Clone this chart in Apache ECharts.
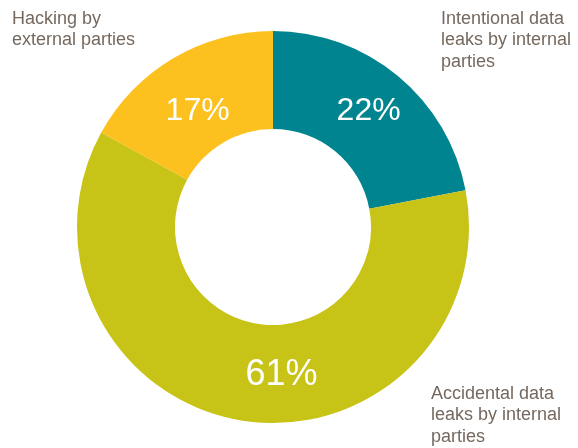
<!DOCTYPE html>
<html>
<head>
<meta charset="utf-8">
<script src="https://cdn.jsdelivr.net/npm/echarts@6/dist/echarts.min.js"></script>
<style>
html,body{margin:0;padding:0;background:#fff;}
#chart{width:578px;height:448px;}
</style>
</head>
<body>
<div id="chart"></div>
<script>
var categories = ['Intentional data\nleaks by internal\nparties', 'Accidental data\nleaks by internal\nparties', 'Hacking by\nexternal parties'];
var values = [22, 61, 17];
var colors = ['#00848F', '#C7C317', '#FCC11E'];

var labelOffsets = [[0, 0], [32, 0], [1, 13]];
var labelSizes = [32, 36, 32];
var namePositions = [[441, 8], [431, 383], [12, 8]];

var chart = echarts.init(document.getElementById('chart'));
var textColor = '#75695F';
var font = '"Liberation Sans", Arial, sans-serif';

chart.setOption({
  animation: false,
  series: [{
    type: 'pie',
    center: [273, 227],
    radius: [98, 196],
    startAngle: 90,
    clockwise: true,
    silent: true,
    data: categories.map(function (c, i) {
      return { name: c, value: values[i], itemStyle: { color: colors[i] }, label: { fontSize: labelSizes[i] } };
    }),
    label: {
      show: true,
      position: 'inside',
      formatter: '{c}%',
      color: '#ffffff',
      fontSize: 32,
      fontFamily: font
    },
    labelLine: { show: false },
    labelLayout: function (p) {
      return { dx: labelOffsets[p.dataIndex][0], dy: labelOffsets[p.dataIndex][1] };
    }
  }],
  graphic: categories.map(function (c, i) {
    return {
      type: 'text',
      left: namePositions[i][0],
      top: namePositions[i][1],
      style: {
        text: c,
        fill: textColor,
        font: '18px ' + font,
        lineHeight: 21.5
      }
    };
  })
});
</script>
</body>
</html>
